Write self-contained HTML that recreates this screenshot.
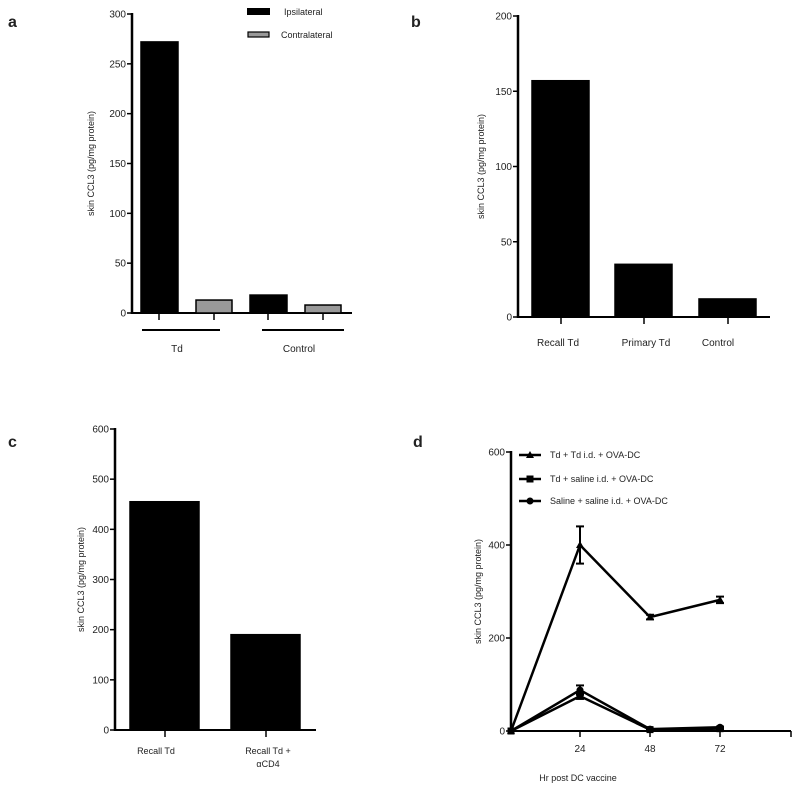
<!DOCTYPE html>
<html><head><meta charset="utf-8"><style>
body{margin:0;background:#fff;}
svg{display:block;font-family:"Liberation Sans",sans-serif;}
text{fill:#222;}
</style></head><body>
<svg id="s" width="800" height="791" viewBox="0 0 800 791"></svg>
<script>
// Panel a
const aGroups=["Td","Control"];
const aIpsi=[272,18];
const aContra=[13,8];
const aTicks=[0,50,100,150,200,250,300];
// Panel b
const bCats=["Recall Td","Primary Td","Control"];
const bVals=[157,35,12];
const bTicks=[0,50,100,150,200];
// Panel c
const cCats=["Recall Td","Recall Td +|αCD4"];
const cVals=[455,190];
const cTicks=[0,100,200,300,400,500,600];
// Panel d
const dX=[0,24,48,72];
const dXTicks=[24,48,72];
const dYTicks=[0,200,400,600];
const dTdTd=[0,400,245,282];
const dTdTdErr=[0,40,5,7];
const dTdSal=[0,75,3,5];
const dTdSalErr=[0,6,1,1];
const dSalSal=[0,88,4,8];
const dSalSalErr=[0,10,1,1];
const dNames=["Td + Td i.d. + OVA-DC","Td + saline i.d. + OVA-DC","Saline + saline i.d. + OVA-DC"];

const S=document.getElementById('s');const NS="http://www.w3.org/2000/svg";
function el(t,a,p){const e=document.createElementNS(NS,t);for(const k in a)e.setAttribute(k,a[k]);(p||S).appendChild(e);return e;}
function txt(x,y,s,o){const e=el('text',Object.assign({x:x,y:y,'font-size':9,'text-anchor':'middle'},o||{}));e.textContent=s;return e;}
function yAxis(x,y0,y1,max,ticks,title,tx,name){
  const g=el('g',{});
  el('line',{x1:x,y1:y1-1,x2:x,y2:y0+1,stroke:'#000','stroke-width':2.5},g);
  const sc=v=>y0-(y0-y1)*v/max;
  ticks.forEach(t=>{el('line',{x1:x-5,y1:sc(t),x2:x,y2:sc(t),stroke:'#000','stroke-width':1.5},g);txt(x-6,sc(t)+3.5,String(t),{'text-anchor':'end','font-size':10},g);});
  const ty=(y0+y1)/2;const t=txt(tx,ty,title,{transform:'rotate(-90 '+tx+' '+ty+')'},g);
  return sc;
}
function bar(x,w,y0,sc,v,fill,name){const r=el('rect',{x:x,y:sc(v),width:w,height:y0-sc(v),fill:fill,stroke:'#000','stroke-width':1.5});}
function lbl(x,y,s){const t=el('text',{x:x,y:y,'font-size':16,'font-weight':'bold'});t.textContent=s;}
lbl(8,27,'a');lbl(411,27,'b');lbl(8,447,'c');lbl(413,447,'d');

// a
{const y0=313,ax=132;const sc=yAxis(ax,y0,14,300,aTicks,"skin CCL3 (pg/mg protein)",94,'y-axis-a');
el('line',{x1:ax,y1:y0,x2:352,y2:y0,stroke:'#000','stroke-width':2});
const gx=[141,250];const gw=[[142,220],[262,344]];
aGroups.forEach((g,i)=>{bar(gx[i],37,y0,sc,aIpsi[i],'#000','bar-ipsilateral-'+g.toLowerCase());bar(gx[i]+55,36,y0,sc,aContra[i],'#999','bar-contralateral-'+g.toLowerCase());
 [gx[i]+18,gx[i]+73].forEach(t=>el('line',{x1:t,y1:y0,x2:t,y2:320,stroke:'#000','stroke-width':1.5}));
 el('line',{x1:gw[i][0],y1:330,x2:gw[i][1],y2:330,stroke:'#000','stroke-width':2});
 txt((gw[i][0]+gw[i][1])/2-4,352,g,{'font-size':10});});
el('rect',{x:247,y:8,width:23,height:7,fill:'#000'});txt(284,15,'Ipsilateral',{'text-anchor':'start'});
el('rect',{x:248,y:32,width:21,height:5,fill:'#999',stroke:'#000','stroke-width':1.2});txt(281,38,'Contralateral',{'text-anchor':'start'});}

// b
{const y0=317,ax=518;const sc=yAxis(ax,y0,16,200,bTicks,"skin CCL3 (pg/mg protein)",484,'y-axis-b');
el('line',{x1:ax,y1:y0,x2:770,y2:y0,stroke:'#000','stroke-width':2});
const bx=[532,615,699];const lx=[558,646,718];
bCats.forEach((c,i)=>{bar(bx[i],57,y0,sc,bVals[i],'#000','bar-'+c.toLowerCase().replace(/ /g,'-'));
 el('line',{x1:bx[i]+29,y1:y0,x2:bx[i]+29,y2:324,stroke:'#000','stroke-width':1.5});txt(lx[i],346,c,{'font-size':10});});}

// c
{const y0=730,ax=115;const sc=yAxis(ax,y0,429,600,cTicks,"skin CCL3 (pg/mg protein)",84,'y-axis-c');
el('line',{x1:ax,y1:y0,x2:316,y2:y0,stroke:'#000','stroke-width':2});
const bx=[130,231];const lx=[156,268];
cCats.forEach((c,i)=>{bar(bx[i],69,y0,sc,cVals[i],'#000','bar-c-'+i);
 el('line',{x1:bx[i]+35,y1:y0,x2:bx[i]+35,y2:737,stroke:'#000','stroke-width':1.5});
 c.split('|').forEach((p,j)=>txt(lx[i],754+j*13,p,{'font-size':9}));});}

// d
{const y0=731,ax=511;const sc=yAxis(ax,y0,452,600,dYTicks,"skin CCL3 (pg/mg protein)",481,'y-axis-d');
const xs=v=>ax+(v/96)*(791-ax)+(v?-1:0);
el('line',{x1:ax,y1:y0,x2:791,y2:y0,stroke:'#000','stroke-width':2});
dXTicks.forEach(t=>{el('line',{x1:xs(t),y1:y0,x2:xs(t),y2:737,stroke:'#000','stroke-width':1.5});txt(xs(t),752,String(t),{'font-size':10});});
el('line',{x1:791,y1:y0,x2:791,y2:737,stroke:'#000','stroke-width':1.5});
const t=txt(578,781,'Hr post DC vaccine',{'font-size':9});
const series=[[dTdTd,dTdTdErr,'tri'],[dTdSal,dTdSalErr,'sq'],[dSalSal,dSalSalErr,'circ']];
function mk(x,y,k,g){if(k=='tri')el('polygon',{points:(x)+','+(y-4)+' '+(x-4)+','+(y+3)+' '+(x+4)+','+(y+3),fill:'#000'},g);else if(k=='sq')el('rect',{x:x-3.5,y:y-3.5,width:7,height:7,fill:'#000'},g);else el('circle',{cx:x,cy:y,r:3.5,fill:'#000'},g);}
series.forEach((s,i)=>{const g=el('g',{});
 el('polyline',{points:dX.map((x,j)=>xs(x)+','+sc(s[0][j])).join(' '),fill:'none',stroke:'#000','stroke-width':2.5},g);
 dX.forEach((x,j)=>{const e=s[1][j];if(e>0){const X=xs(x);el('line',{x1:X,y1:sc(s[0][j]+e),x2:X,y2:sc(s[0][j]-e),stroke:'#000','stroke-width':2},g);[s[0][j]+e,s[0][j]-e].forEach(v=>el('line',{x1:X-4,y1:sc(v),x2:X+4,y2:sc(v),stroke:'#000','stroke-width':2},g));}mk(xs(x),sc(s[0][j]),s[2],g);});
 const ly=[455,479,501][i];el('line',{x1:519,y1:ly,x2:541,y2:ly,stroke:'#000','stroke-width':2.5});mk(530,ly,s[2]);
 txt(550,ly+3,dNames[i],{'text-anchor':'start','font-size':9});});}
</script>
</body></html>
